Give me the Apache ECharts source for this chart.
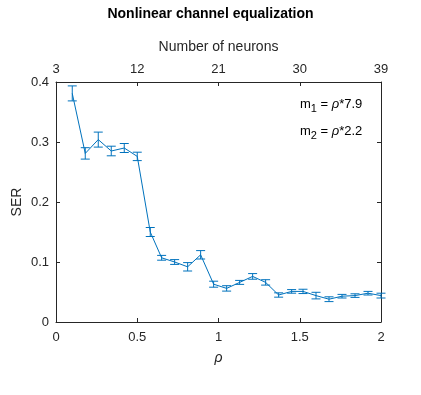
<!DOCTYPE html>
<html>
<head>
<meta charset="utf-8">
<script src="https://cdn.jsdelivr.net/npm/echarts@6/dist/echarts.min.js"></script>
<style>
html, body { margin: 0; padding: 0; background: #fff; }
#chart { width: 421px; height: 395px; }
</style>
</head>
<body>
<div id="chart"></div>
<script>
// values
var rho = [0.1, 0.18, 0.26, 0.34, 0.42, 0.5, 0.58, 0.65, 0.73, 0.81, 0.89, 0.97, 1.05,
	1.13, 1.21, 1.29, 1.37, 1.45, 1.52, 1.6, 1.68, 1.76, 1.84, 1.92, 2.0];
var ser = [0.381, 0.281, 0.304, 0.285, 0.29, 0.276, 0.15, 0.107, 0.1, 0.092, 0.112, 0.063, 0.056,
	0.066, 0.076, 0.066, 0.045, 0.051, 0.051, 0.044, 0.038, 0.043, 0.044, 0.048, 0.044];
var serErr = [0.0125, 0.0095, 0.0125, 0.008, 0.0075, 0.007, 0.0075, 0.004, 0.004, 0.007, 0.007, 0.005, 0.0045,
	0.0033, 0.0047, 0.0045, 0.0036, 0.003, 0.0036, 0.0055, 0.004, 0.003, 0.003, 0.003, 0.004];

var blue = '#0072BD';
var font = 'Liberation Sans, Arial, sans-serif';

var lineData = [];
var errData = [];
for (var i = 0; i < rho.length; i++) {
	lineData.push([rho[i], ser[i]]);
	errData.push([rho[i], ser[i] - serErr[i], ser[i] + serErr[i]]);
}

function axis(extra) {
	var base = {
		type: 'value',
		nameMoveOverlap: false,
		axisLine: { show: true, onZero: false, lineStyle: { color: '#262626', width: 1 } },
		axisTick: { show: true, inside: true, length: 4, lineStyle: { color: '#262626' } },
		splitLine: { show: false },
		axisLabel: { color: '#262626', fontSize: 13, fontFamily: font },
		nameTextStyle: { fontSize: 14, color: '#262626', fontFamily: font }
	};
	return echarts.util.merge(base, extra, true);
}

var richStyle = {
	t: { fontSize: 13, fontFamily: font, fill: '#000' },
	i: { fontSize: 13, fontFamily: font, fontStyle: 'italic', fill: '#000' },
	s: { fontSize: 11, fontFamily: font, fill: '#000', padding: [9, 0, 0, 0] }
};

var chart = echarts.init(document.getElementById('chart'));
chart.setOption({
	animation: false,
	backgroundColor: '#fff',
	title: {
		text: 'Nonlinear channel equalization',
		left: 'center',
		top: 2,
		textStyle: { fontSize: 14, fontWeight: 'bold', color: '#000', fontFamily: font }
	},
	grid: { left: 56, right: 40, top: 82, bottom: 73, containLabel: false, outerBoundsMode: 'none' },
	xAxis: [
		axis({
			position: 'bottom', min: 0, max: 2, interval: 0.5,
			name: 'ρ', nameLocation: 'middle', nameGap: 29,
			nameTextStyle: { fontStyle: 'italic' },
			axisLabel: { margin: 9 }
		}),
		axis({
			position: 'top', min: 3, max: 39, interval: 9,
			name: 'Number of neurons', nameLocation: 'middle', nameGap: 28,
			axisLabel: { margin: 6 }
		})
	],
	yAxis: [
		axis({
			position: 'left', min: 0, max: 0.4, interval: 0.1,
			name: 'SER', nameLocation: 'middle', nameGap: 32,
			axisLabel: { margin: 7 }
		}),
		axis({
			position: 'right', min: 0, max: 0.4, interval: 0.1,
			axisLabel: { show: false }
		})
	],
	graphic: [{
		type: 'text', left: 300, top: 98,
		style: { text: '{t|m}{s|1}{t| = }{i|ρ}{t|*7.9}', rich: richStyle }
	}, {
		type: 'text', left: 300, top: 125,
		style: { text: '{t|m}{s|2}{t| = }{i|ρ}{t|*2.2}', rich: richStyle }
	}],
	series: [{
		type: 'line',
		xAxisIndex: 0,
		yAxisIndex: 0,
		data: lineData,
		symbol: 'none',
		lineStyle: { color: blue, width: 1 }
	}, {
		type: 'custom',
		xAxisIndex: 0,
		yAxisIndex: 0,
		data: errData,
		renderItem: function (params, api) {
			var x = api.value(0);
			var lo = api.coord([x, api.value(1)]);
			var hi = api.coord([x, api.value(2)]);
			var w = 4.5;
			var st = { stroke: blue, lineWidth: 1 };
			return {
				type: 'group',
				children: [
					{ type: 'line', shape: { x1: lo[0], y1: lo[1], x2: hi[0], y2: hi[1] }, style: st },
					{ type: 'line', shape: { x1: lo[0] - w, y1: lo[1], x2: lo[0] + w, y2: lo[1] }, style: st },
					{ type: 'line', shape: { x1: hi[0] - w, y1: hi[1], x2: hi[0] + w, y2: hi[1] }, style: st }
				]
			};
		}
	}]
});
</script>
</body>
</html>
